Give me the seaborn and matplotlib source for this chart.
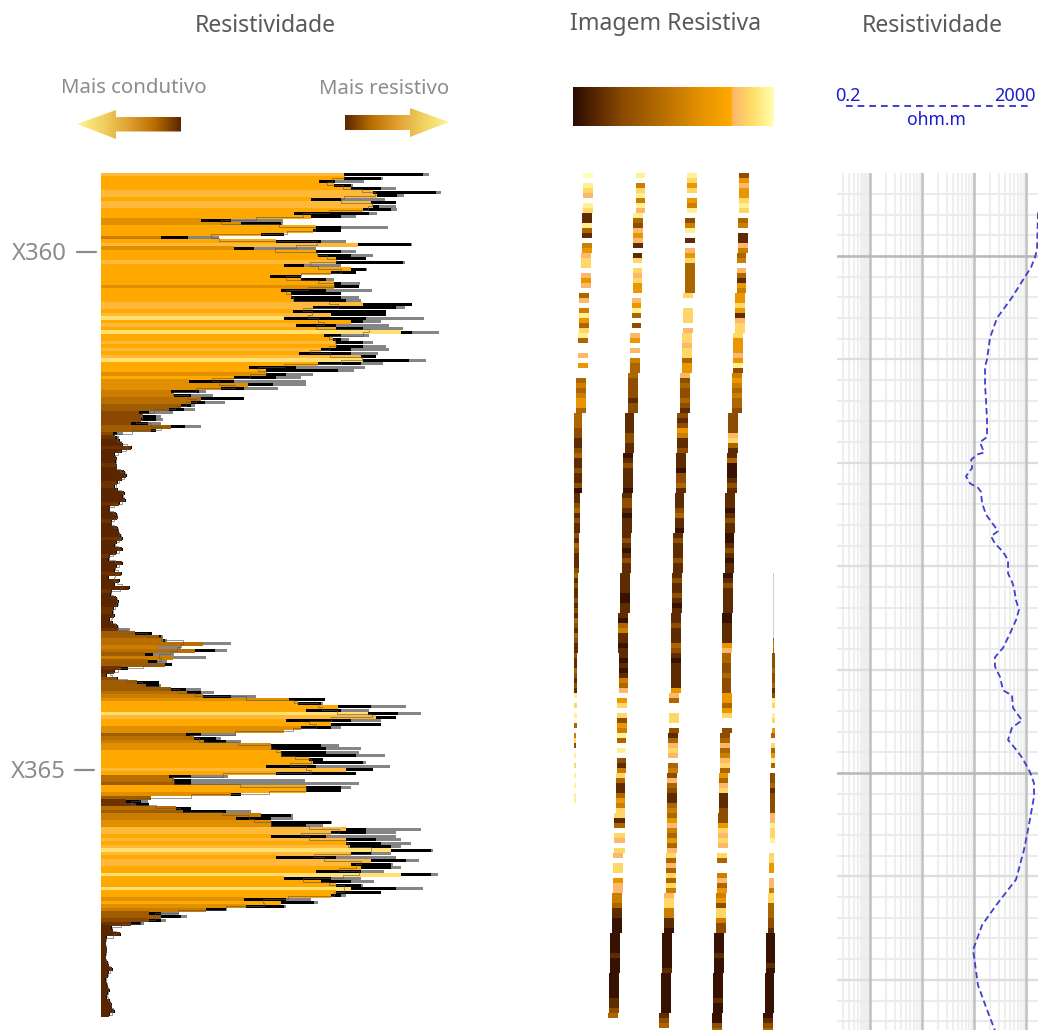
import numpy as np
import pandas as pd
import seaborn as sns
import matplotlib.pyplot as plt
from matplotlib.colors import LinearSegmentedColormap
from matplotlib.patches import Polygon

# Left track: one entry per log sample, top to bottom
body_len = [243,243,218,233,250,272,276,210,270,272, 262,193,210,100,140,215,212,160,60,175,
            257,133,215,217,235,235,183,250,230,169, 200,233,233,180,190,190,193,262,212,192,
            230,183,250,195,235,300,223,232,235,235, 220,198,260,262,217,148,165,165,133,88,
            147,120,70,73,100,90,80,68,38,42, 40,30,70,50,12,14,18,21,30,20,
            13,15,14,15,15,23,25,20,16,13, 16,23,21,24,18,8,8,15,16,10,
            10,16,17,19,21,15,13,21,15,8, 7,21,15,13,20,7,18,13,28,10,
            9,15,17,16,12,11,13,8,11,16, 17,34,58,62,102,57,94,44,72,47,
            64,20,13,5,16,36,45,70,86,102, 188,197,237,205,267,275,185,230,200,183,
            85,93,103,170,170,180,180,208,212,165, 245,175,68,73,73,205,205,130,50,25,
            35,75,82,160,135,170,170,245,230,170, 245,245,249,290,250,175,270,250,260,215,
            300,183,220,235,250,235,230,143,180,145, 105,48,60,48,30,10,11,19,5,4,
            4,5,5,4,4,6,7,11,7,6, 4,5,6,8,6,5,8,10,10,13, 8]
dark_len = [322,280,234,250,280,335,296,240,295,278, 290,268,240,130,180,240,240,183,87,220,
            310,153,240,250,265,302,203,265,255,200, 225,240,258,225,240,240,245,311,295,285,
            285,265,262,235,262,311,240,240,262,262, 250,250,275,308,260,195,237,185,175,133,
            172,143,98,90,143,104,90,83,48,55, 55,47,84,55,16,16,19,22,31,21,
            14,16,15,16,16,24,26,21,17,14, 17,24,22,25,19,9,9,16,17,11,
            11,17,18,20,22,16,14,22,16,9, 8,22,16,14,21,8,19,14,29,11,
            10,16,18,17,13,12,14,9,12,17, 17,51,60,64,102,57,114,52,72,56,
            71,27,14,6,17,58,58,85,100,130, 224,220,270,240,297,295,250,280,230,183,
            100,115,125,220,225,225,255,222,262,215, 272,255,90,90,90,240,240,140,50,40,
            48,90,125,190,170,230,205,265,265,225, 275,280,290,330,270,235,305,290,290,260,
            330,230,250,260,295,280,240,185,213,183, 125,60,80,60,40,11,12,20,6,5,
            5,6,6,5,5,7,8,12,8,7, 5,6,7,9,7,6,9,11,11,14, 9]
tip_len = [328,282,263,252,295,340,303,284,295,295, 296,276,255,182,182,287,240,183,118,245,
           311,215,255,272,265,304,240,266,255,200, 233,259,258,271,240,258,260,311,304,285,
           285,323,280,288,302,338,268,248,272,285, 288,277,275,325,282,264,253,212,200,205,
           205,177,105,112,143,124,94,94,72,60, 62,60,100,55,22,18,19,22,31,21,
           14,16,15,16,16,24,26,21,17,14, 17,24,22,25,19,9,9,16,17,11,
           11,17,18,20,22,16,14,22,16,9, 8,22,16,14,21,8,19,14,29,11,
           10,16,18,17,13,12,14,9,12,17, 29,51,62,66,130,80,126,73,105,66,
           71,27,14,6,17,58,60,100,113,155, 224,222,305,268,320,295,280,280,240,183,
           135,120,140,238,260,258,284,222,265,289, 272,255,127,204,258,250,240,140,50,47,
           48,90,150,192,192,231,222,320,295,295, 300,310,300,332,290,295,318,292,300,283,
           337,260,273,262,322,280,245,210,217,185, 125,78,86,65,43,11,12,20,6,5,
           5,6,6,5,5,7,8,12,8,7, 5,6,7,9,7,6,9,11,11,14, 9]
body_shade = ("8777788788" "7776677757" "8677787777" "7767777887" "8978797787" "8789777676"
              "6655443322" "2233210010"
              "00010000110000100001000010000100001000010000110000"
              "1334454353" "3101233345" "6777987766" "3456677777" "8744377631"
              "1435566887" "8789878877" "9777977676" "5332100000"
              "000000000000000000000")
bar_colors = ["#5a2600", "#6e3200", "#8a4800", "#a05c00", "#b86e00",
              "#cc7d00", "#e08f00", "#ffa800", "#ffb93a", "#ffe070"]

# Image track: a shade per row for each pad, '-' where the pad reads nothing, 'g' faint trace
pad1_shade = ("9-876-87118" "31-45677-656-36-48537" "83--6-5--34345533332"
              "2112311211201123121121321112312112" "121321321121132121"
              "8-7-8-3-472-8-7-8-8-88" + "-" * 46)
pad2_shade = ("8-478486832" "6561-17-7675" "5-6583-2-65-6-43332" "2221221"
              "1112211012111101221011112101211111" "100111034110110101"
              "436-57-72548" "3-8-21473" "113547713-76-76-77-56644311" "00000001000000001123")
pad3_shade = ("8757-548-248-1-657333333" "7--777-67767735562322321212"
              "5411211102231111231101211121112112" "101112111321011111"
              "563--77-213676-342632" "113435643536" "736373746774411" "00000000100000000123")
pad4_shade = ("25655787-34-116434-63154557516777" "5556582454343322222"
              "6731130001211110121100121011012111" "110011115633223222"
              "55357--22363467353671" "1122257676-7" "3--463545277422"
              "00001000000001000023")
pad5_shade = ("-" * 80 + "g" * 13 + "343222322312" "87-87-53-73583-223122"
              "2266" "8778--7755-66477333221" "00000010000000000123")
# Pad left edge and width per stretch of eight rows
pad1_left = [583,582,581,579,578,576,574,574,574,574,574,574,574,574,574,574,574,574,574,574,574,574]
pad1_wide = [10,10,10,10,10,10,8,8,6,5,4,4,3,3,2,2,0,0,0,0,0,0]
pad2_left = [636,633,633,632,630,628,625,623,622,622,620,618,619,617,617,616,614,613,612,610,609,608]
pad2_wide = [9,10,9,9,10,10,9,10,10,9,10,10,9,10,9,9,11,10,10,10,10,10]
pad3_left = [687,685,685,683,682,680,677,676,675,673,672,671,671,669,668,667,667,666,664,662,661,659]
pad3_wide = [10,10,10,10,10,10,11,10,9,10,10,10,10,10,10,10,10,10,10,10,10,10]
pad4_left = [739,738,737,735,733,732,728,727,725,725,723,722,722,722,720,719,718,717,716,714,713,712]
pad4_wide = [10,10,9,10,10,10,10,10,10,9,10,10,9,10,10,9,10,10,10,10,10,10]
pad5_left = [773,773,773,773,773,773,773,773,773,773,773,773,772,772,771,770,770,769,768,766,765,763]
pad5_wide = [0,0,0,0,0,0,0,0,0,0,1,1,3,3,4,5,5,5,6,9,9,10]
# Where each read shade sits on the colour scale
pad_levels = [0.3, 1.2, 2.4, 3.6, 4.8, 6.0, 7.2, 7.9, 8.6, 9.0]

# Right track: resistivity curve, ohm.m against depth
curve_depth = [359.58,359.94,360.01,360.11,360.20,360.40,360.60,360.79,361.00,361.07,361.25,361.39,
               361.59,361.75,361.80,361.90,361.92,361.97,362.05,362.13,362.20,362.24,362.28,362.39,
               362.50,362.58,362.66,362.71,362.78,362.86,362.94,363.07,363.15,363.21,363.33,363.42,
               363.52,363.65,363.79,363.88,363.97,364.07,364.20,364.25,364.37,364.49,364.56,364.68,
               364.76,364.85,364.99,365.10,365.23,365.55,365.74,366.03,366.28,366.47,366.71,367.05,
               367.29,367.49]
curve_ohm = [1700,1628,1489,1248,957,538,277,203,178,163,163,170,
             178,178,130,156,114,88,92,70,84,119,136,143,
             170,222,290,212,253,361,451,451,538,588,642,733,
             642,492,361,253,253,316,361,538,562,838,538,451,
             614,838,1194,1426,1426,1092,916,642,265,143,96,119,
             178,253]

track_titles = ["Resistividade", "Imagem Resistiva", "Resistividade"]
depth_labels = ["X360", "X365"]

sns.set_theme(style="white")
plt.rcParams['font.family'] = ['Noto Sans', 'DejaVu Sans']

W, H = 1042, 1030
fig = plt.figure(figsize=(W / 100, H / 100), dpi=100, facecolor="white")


def box(x0, y0, x1, y1):
    # pixel box to figure fractions
    return [x0 / W, 1 - y1 / H, (x1 - x0) / W, (y1 - y0) / H]


res_cmap = LinearSegmentedColormap.from_list("res", [
    (0, "#2a0a00"), (0.12, "#5a2800"), (0.25, "#8a4a00"), (0.45, "#b86e00"), (0.62, "#e08f00"),
    (0.785, "#ffa800"), (0.80, "#fbb86a"), (0.89, "#ffdc66"), (1, "#ffffb0")])
res_cmap.set_over("#cfcfcf")

# Left track
ax = fig.add_axes(box(101, 173, 441, 173 + 3.5 * len(tip_len)))
rows = [str(i) for i in range(len(tip_len))]
logs = pd.DataFrame({"row": rows, "body": body_len, "dark": dark_len, "tip": tip_len})
colors = [bar_colors[int(c)] for c in body_shade]
sns.barplot(data=logs, x="tip", y="row", orient="h", color="#858585", saturation=1, width=0.72, linewidth=0, ax=ax)
sns.barplot(data=logs, x="dark", y="row", orient="h", color="black", saturation=1, width=0.72, linewidth=0, ax=ax)
sns.barplot(data=logs, x="body", y="row", hue="row", palette=colors, orient="h", saturation=1, width=1.02,
            linewidth=0, dodge=False, legend=False, ax=ax)
ax.step(body_len, range(len(body_len)), where="mid", color="#555555", lw=0.7, alpha=0.6)
ax.set_xlim(0, 340)
ax.set_ylim(len(rows) - 0.5, -0.5)
ax.axis("off")

# Image track
n_rows = 172
img = np.full((n_rows, 214), np.nan)
pads = [(pad1_shade, pad1_left, pad1_wide), (pad2_shade, pad2_left, pad2_wide), (pad3_shade, pad3_left, pad3_wide),
        (pad4_shade, pad4_left, pad4_wide), (pad5_shade, pad5_left, pad5_wide)]
for shade, left, wide in pads:
    lefts = np.repeat(left, 8)
    widths = np.repeat(wide, 8)
    for r, c in enumerate(shade[:n_rows]):
        if c == "-":
            continue
        val = 10 if c == "g" else pad_levels[int(c)]
        img[r, lefts[r] - 568:lefts[r] - 568 + widths[r]] = val
ax = fig.add_axes(box(568, 173, 782, 173 + 5 * n_rows))
sns.heatmap(img, cmap=res_cmap, vmin=0, vmax=9, cbar=False, xticklabels=False, yticklabels=False, ax=ax)

# Colour scale above the image track
ax = fig.add_axes(box(573, 87, 774, 126))
sns.heatmap(np.linspace(0, 9, 256).reshape(1, -1), cmap=res_cmap, vmin=0, vmax=9, cbar=False,
            xticklabels=False, yticklabels=False, ax=ax)

# Right track
ax = fig.add_axes(box(837, 173, 1038, H))
ax.set_xscale("log")
ax.set_xlim(0.232, 1700)
ax.set_ylim(367.485, 359.197)
ax.axvspan(0.64, 1, color="#f1f1f1", lw=0, zorder=0)
for dec in [0.1, 1, 10, 100, 1000]:
    for m in range(2, 10):
        if 0.232 < dec * m < 1700:
            ax.axvline(dec * m, color="#efefef", lw=1.5, zorder=1)
for d in np.arange(359.4, 367.5, 0.2):
    ax.axhline(d, color="#ebebeb", lw=1.5, zorder=1)
for d in [361, 362, 363, 364, 366, 367]:
    ax.axhline(d, color="#dedede", lw=1.6, zorder=1)
for v in [1, 10, 100, 1000]:
    ax.axvline(v, color="#c0c0c0", lw=1.8, zorder=2)
for d in [360, 365]:
    ax.axhline(d, color="#b8b8b8", lw=1.8, zorder=2)
sns.lineplot(x=curve_ohm, y=curve_depth, sort=False, estimator=None, orient="y", color="#3f3fd0", lw=1.3,
             linestyle=(0, (3.5, 2)), ax=ax, zorder=3)
ax.set_xticks([])
ax.set_yticks([])
ax.minorticks_off()
ax.set_xlabel("")
ax.set_ylabel("")
sns.despine(ax=ax, left=True, bottom=True)

# Titles, arrows and labels drawn over everything in pixel space
over = fig.add_axes([0, 0, 1, 1], facecolor="none")
arrow_cmap = LinearSegmentedColormap.from_list("arrow", ["#5a2800", "#b86e00", "#e0a030", "#f0d060", "#fff490"])
left_arrow = [(77, 124), (116, 110), (116, 117), (181, 117), (181, 131.5), (116, 131.5), (116, 139)]
right_arrow = [(449, 122), (410, 108), (410, 115), (345, 115), (345, 130), (410, 130), (410, 137)]
ramp = np.linspace(0, 1, 128).reshape(1, -1)
for pts, extent, grad in [(left_arrow, (77, 181, 140, 109), ramp[:, ::-1]), (right_arrow, (345, 449, 138, 107), ramp)]:
    im = over.imshow(grad, cmap=arrow_cmap, extent=extent, aspect="auto", zorder=1)
    patch = Polygon(pts, closed=True, transform=over.transData, fc="none", ec="none")
    over.add_patch(patch)
    im.set_clip_path(patch)
over.set_xlim(0, W)
over.set_ylim(H, 0)
over.axis("off")

for x, y, label in zip([265, 666, 932], [26, 24, 26], track_titles):
    over.text(x, y, label, ha="center", va="center", fontsize=16.6, color="#595959")
over.text(134, 88, "Mais condutivo", ha="center", va="center", fontsize=14.7, color="#8c8c8c")
over.text(384.5, 89, "Mais resistivo", ha="center", va="center", fontsize=14.7, color="#8c8c8c")
for (x, y), label in zip([(39.5, 254), (38.5, 772)], depth_labels):
    over.text(x, y, label, ha="center", va="center", fontsize=17.2, color="#8c8c8c")
over.plot([77, 96], [252, 252], color="#8c8c8c", lw=1.6)
over.plot([75, 94], [770, 770], color="#8c8c8c", lw=1.6)
blue = "#1c1cd0"
over.text(835, 96, "0.2", ha="left", va="center", fontsize=13, color=blue)
over.text(1036, 96, "2000", ha="right", va="center", fontsize=13, color=blue)
over.text(936, 120, "ohm.m", ha="center", va="center", fontsize=12.6, color=blue)
over.plot([846, 1029], [106, 106], color=blue, lw=1.2, linestyle=(0, (4, 3)))

fig.savefig("out.png", dpi=100)
